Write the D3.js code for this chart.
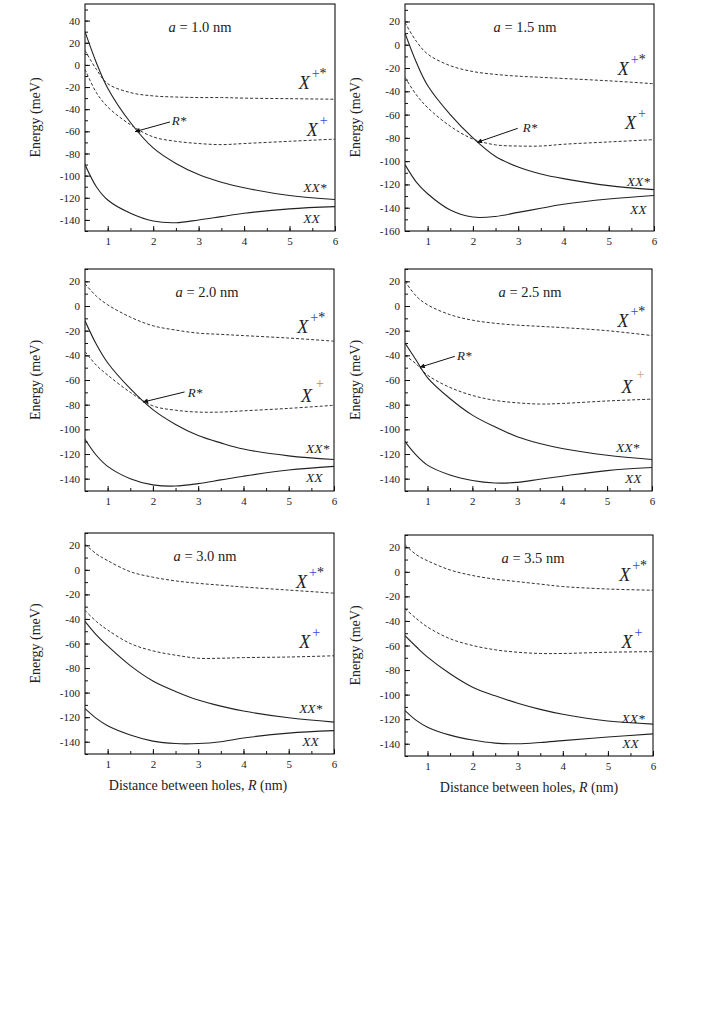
<!DOCTYPE html>
<html>
<head>
<meta charset="utf-8">
<script src="https://cdn.jsdelivr.net/npm/d3@7"></script>
<style>
  body { margin: 0; background: #fff; }
  svg text { font-family: "Liberation Serif", "Times New Roman", serif; fill: #222; }
</style>
</head>
<body>
<svg id="chart" width="708" height="1020"></svg>
<script>
'use strict';

// distance between holes R (nm), shared by every curve
const R = [0.5, 0.75, 1, 1.5, 2, 2.5, 3, 3.5, 4, 5, 6];
const dotSizes = ['1.0', '1.5', '2.0', '2.5', '3.0', '3.5'];
const xTicks = [1, 2, 3, 4, 5, 6];

// energies (meV), one array per curve and dot size
const xx10  = [-90, -110, -122, -134, -141, -142.5, -140, -137, -134, -130, -128];
const xxs10 = [30, 2, -21, -52, -75, -89, -99, -106, -111, -118, -121.5];
const xp10  = [-4, -25, -38, -54, -65, -69, -71, -72, -71, -69, -67];
const xps10 = [13, -4, -17, -25, -28, -29, -29.5, -29.5, -30, -30.5, -31];

const xx15  = [-103, -118, -128, -142, -148, -147.5, -144, -140.5, -137, -132.5, -129.5];
const xxs15 = [10, -15, -35, -60, -80, -96, -105, -111, -115, -121, -124.5];
const xp15  = [-28, -43, -54, -70, -81, -86, -87, -87, -85.5, -83.5, -81.5];
const xps15 = [19, 3, -8, -18, -23, -25.5, -27, -28, -29, -31, -33.5];

const xx20  = [-108, -121, -130, -140, -145, -146, -144, -141, -138, -133, -130];
const xxs20 = [-12, -31, -46, -67, -84, -96, -105, -111, -116, -121.5, -124.5];
const xp20  = [-37, -48, -56, -70, -81, -84.5, -86, -86, -85, -83, -80.5];
const xps20 = [18, 8, 1, -9, -16, -19.5, -22, -23, -24, -26, -28.5];

const xx25  = [-110, -121, -129, -137, -141.5, -143.5, -143, -140.5, -138, -133.5, -131];
const xxs25 = [-30, -44, -58, -75, -88.5, -98, -106, -111.5, -115.5, -121, -124.5];
const xp25  = [-40, -47, -56, -66, -72.5, -76.5, -78.5, -79.5, -79, -77, -75.5];
const xps25 = [20, 8, 1, -7, -11.5, -14, -15.5, -16.5, -17.5, -20, -24];

const xx30  = [-113, -121, -127, -134.5, -139.5, -141.5, -141.5, -140, -137, -133, -131];
const xxs30 = [-42, -53, -62, -78, -90.5, -99, -106, -111, -115, -120.5, -124];
const xp30  = [-33, -42, -49, -60, -66, -69.5, -72, -72, -71.5, -71, -70];
const xps30 = [21, 13, 7.5, -1.5, -6, -9, -11, -12.5, -14, -16.5, -19];

const xx35  = [-113, -121, -126.5, -133, -137, -139.5, -140, -139, -137.5, -134.5, -132];
const xxs35 = [-52, -61, -69.5, -83, -94, -101, -107, -112, -116, -121.5, -124];
const xp35  = [-30, -38, -45, -54.5, -60, -63.5, -65.5, -66.5, -66.5, -65.5, -65];
const xps35 = [22, 14, 9, 1.5, -3, -6, -8, -10, -12, -14, -15];

const curves = [
  [xx10, xxs10, xp10, xps10],
  [xx15, xxs15, xp15, xps15],
  [xx20, xxs20, xp20, xps20],
  [xx25, xxs25, xp25, xps25],
  [xx30, xxs30, xp30, xps30],
  [xx35, xxs35, xp35, xps35],
];
const yDomains = [[-150, 55], [-160, 35], [-150, 30], [-150, 30], [-150, 30], [-150, 30]];

// layout of each panel (pixels) and label anchors (data units)
const panels = [
  { left: 85, top: 4, right: 335, bottom: 231, titleX: 200, plus: '#2d4fd6',
    lab: { xps: [5.2, -22], xp: [5.38, -64.5], xxs: [5.3, -115], xx: [5.3, -143] },
    rstar: { text: [2.41, -54], from: [2.37, -51.5], to: [1.6, -60.3] } },
  { left: 405, top: 4, right: 654, bottom: 231, titleX: 525, plus: '#2d4fd6',
    lab: { xps: [5.2, -26.4], xp: [5.36, -72], xxs: [5.4, -121], xx: [5.47, -145] },
    rstar: { text: [3.1, -75.3], from: [2.99, -71.8], to: [2.09, -83.9] } },
  { left: 85, top: 269, right: 334, bottom: 491, titleX: 207, plus: '#c98a3a',
    lab: { xps: [5.19, -21.7], xp: [5.27, -77.9], xxs: [5.38, -119.4], xx: [5.38, -143] },
    rstar: { text: [2.77, -73.7], from: [2.7, -69.7], to: [1.78, -77.9] } },
  { left: 405, top: 269, right: 652, bottom: 491, titleX: 530, plus: '#dba464',
    lab: { xps: [5.23, -17.3], xp: [5.32, -70.8], xxs: [5.2, -118.7], xx: [5.4, -143.8] },
    rstar: { text: [1.66, -44], from: [1.61, -40.8], to: [0.83, -49.7] } },
  { left: 85, top: 533, right: 334, bottom: 754, titleX: 205, plus: '#2d4fd6', xLabelX: 198,
    lab: { xps: [5.16, -14.9], xp: [5.23, -63.5], xxs: [5.23, -116.2], xx: [5.3, -143.8] } },
  { left: 405, top: 535, right: 653, bottom: 756, titleX: 533, plus: '#2d4fd6', xLabelX: 529,
    lab: { xps: [5.25, -7.1], xp: [5.3, -62.4], xxs: [5.3, -123.4], xx: [5.32, -143.8] } },
];

const FONT = '"Liberation Serif", "Times New Roman", serif';
const svg = d3.select('#chart');
const defs = svg.append('defs');
defs.append('marker')
  .attr('id', 'arrow')
  .attr('viewBox', '0 0 10 10')
  .attr('refX', 10).attr('refY', 5)
  .attr('markerWidth', 7).attr('markerHeight', 5)
  .attr('markerUnits', 'userSpaceOnUse')
  .attr('orient', 'auto')
  .append('path').attr('d', 'M0,0 L10,5 L0,10 Z').attr('fill', '#111');

panels.forEach((p, i) => drawPanel(p, i));

function drawPanel(p, i) {
  const x = d3.scaleLinear().domain([0.5, 6]).range([p.left, p.right]);
  const y = d3.scaleLinear().domain(yDomains[i]).range([p.bottom, p.top]);
  const g = svg.append('g');

  const clipId = 'clip' + i;
  defs.append('clipPath').attr('id', clipId)
    .append('rect')
    .attr('x', p.left).attr('y', p.top)
    .attr('width', p.right - p.left).attr('height', p.bottom - p.top);

  const yMinor = d3.range(Math.ceil(yDomains[i][0] / 10) * 10, yDomains[i][1] + 0.1, 10);
  const yMajor = yMinor.filter((v) => v % 20 === 0 && v <= yDomains[i][1] - 5);
  const xMinor = d3.range(1, 6.01, 0.5);

  // minor ticks
  g.append('g').attr('transform', `translate(${p.left},0)`)
    .call(d3.axisLeft(y).tickValues(yMinor).tickSizeInner(-3).tickSizeOuter(0).tickFormat(''))
    .call((s) => s.select('.domain').remove());
  g.append('g').attr('transform', `translate(0,${p.bottom})`)
    .call(d3.axisBottom(x).tickValues(xMinor).tickSizeInner(-3).tickSizeOuter(0).tickFormat(''))
    .call((s) => s.select('.domain').remove());

  // major ticks, plain hyphen minus like the original
  const yAx = g.append('g').attr('transform', `translate(${p.left},0)`)
    .call(d3.axisLeft(y).tickValues(yMajor).tickSizeInner(-5).tickSizeOuter(0).tickPadding(5)
      .tickFormat((d) => String(d)));
  yAx.select('.domain').remove();
  yAx.attr('font-family', FONT);
  yAx.selectAll('text').attr('font-size', 11).attr('fill', '#222');

  const xAx = g.append('g').attr('transform', `translate(0,${p.bottom})`)
    .call(d3.axisBottom(x).tickValues(xTicks).tickSizeInner(-5).tickSizeOuter(0).tickPadding(6)
      .tickFormat((d) => String(d)));
  xAx.select('.domain').remove();
  xAx.attr('font-family', FONT);
  xAx.selectAll('text').attr('font-size', 11).attr('fill', '#222');
  g.selectAll('.tick line').attr('stroke', '#111');

  g.append('rect')
    .attr('x', p.left).attr('y', p.top)
    .attr('width', p.right - p.left).attr('height', p.bottom - p.top)
    .attr('fill', 'none').attr('stroke', '#111').attr('stroke-width', 1.1);

  // curves: XX, XX* solid; X+, X+* dashed
  const line = d3.line()
    .x((d) => x(d[0]))
    .y((d) => y(d[1]))
    .curve(d3.curveCatmullRom.alpha(0.5));
  const [xx, xxs, xp, xps] = curves[i];
  const series = [
    { v: xx, dash: null },
    { v: xxs, dash: null },
    { v: xp, dash: '3,2' },
    { v: xps, dash: '3,2' },
  ];
  g.append('g').attr('clip-path', `url(#${clipId})`)
    .selectAll('path')
    .data(series)
    .join('path')
    .attr('d', (s) => line(R.map((r, k) => [r, s.v[k]])))
    .attr('fill', 'none')
    .attr('stroke', (s) => s.dash ? '#333' : '#222')
    .attr('stroke-width', (s) => s.dash ? 1 : 1.1)
    .attr('stroke-dasharray', (s) => s.dash);

  // panel title
  const t = g.append('text')
    .attr('x', p.titleX).attr('y', p.top + 28)
    .attr('text-anchor', 'middle')
    .attr('font-size', 14.5);
  t.append('tspan').attr('font-style', 'italic').text('a');
  t.append('tspan').text(` = ${dotSizes[i]} nm`);

  // curve labels
  const lab = p.lab;
  const tps = g.append('text')
    .attr('x', x(lab.xps[0])).attr('y', y(lab.xps[1]))
    .attr('font-size', 18).attr('font-style', 'italic');
  tps.append('tspan').text('X');
  tps.append('tspan').attr('font-size', 14).attr('font-style', 'normal')
    .attr('dy', -11).attr('dx', 2).attr('fill', '#2d4fd6').text('+');
  tps.append('tspan').attr('font-size', 14).attr('font-style', 'normal').text('*');

  const tp = g.append('text')
    .attr('x', x(lab.xp[0])).attr('y', y(lab.xp[1]))
    .attr('font-size', 18).attr('font-style', 'italic');
  tp.append('tspan').text('X');
  tp.append('tspan').attr('font-size', 14).attr('font-style', 'normal')
    .attr('dy', i === 2 || i === 3 ? -14 : -11).attr('dx', i === 2 || i === 3 ? 4 : 2)
    .attr('fill', p.plus).text('+');

  g.append('text')
    .attr('x', x(lab.xxs[0])).attr('y', y(lab.xxs[1]))
    .attr('font-size', 13.5).attr('font-style', 'italic')
    .text('XX*');
  g.append('text')
    .attr('x', x(lab.xx[0])).attr('y', y(lab.xx[1]))
    .attr('font-size', 13.5).attr('font-style', 'italic')
    .text('XX');

  // R* crossing marker
  if (p.rstar) {
    g.append('line')
      .attr('x1', x(p.rstar.from[0])).attr('y1', y(p.rstar.from[1]))
      .attr('x2', x(p.rstar.to[0])).attr('y2', y(p.rstar.to[1]))
      .attr('stroke', '#111').attr('stroke-width', 1)
      .attr('marker-end', 'url(#arrow)');
    g.append('text')
      .attr('x', x(p.rstar.text[0])).attr('y', y(p.rstar.text[1]))
      .attr('font-size', 13).attr('font-style', 'italic')
      .text('R*');
  }

  // axis titles
  g.append('text')
    .attr('transform', `translate(${p.left - 45},${(p.top + p.bottom) / 2}) rotate(-90)`)
    .attr('text-anchor', 'middle')
    .attr('font-size', 14)
    .text('Energy (meV)');

  if (p.xLabelX) {
    const xl = g.append('text')
      .attr('x', p.xLabelX).attr('y', p.bottom + 36)
      .attr('text-anchor', 'middle')
      .attr('font-size', 14);
    xl.append('tspan').text('Distance between holes, ');
    xl.append('tspan').attr('font-style', 'italic').text('R');
    xl.append('tspan').text(' (nm)');
  }
}
</script>
</body>
</html>
